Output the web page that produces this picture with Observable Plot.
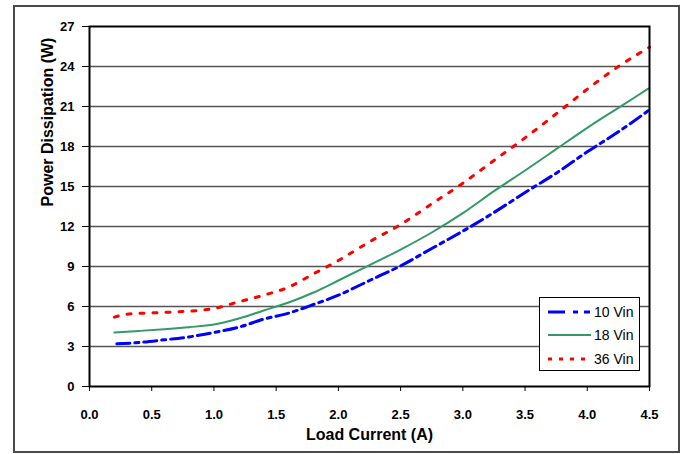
<!DOCTYPE html>
<html>
<head>
<meta charset="utf-8">
<script src="https://cdn.jsdelivr.net/npm/d3@7"></script>
<script src="https://cdn.jsdelivr.net/npm/@observablehq/plot@0.6"></script>
<style>
  html, body { margin: 0; padding: 0; background: #fff; }
  #wrap { position: relative; width: 683px; height: 454px; font-family: "Liberation Sans", Arial, sans-serif; }
  #border { position: absolute; left: 13px; top: 5px; width: 663px; height: 444px; border: 2px solid #4a4a4a; pointer-events: none; }
  #legend { position: absolute; left: 539px; top: 297px; width: 99px; height: 72px; border: 1px solid #000; background: #fff; }
  #legend .row { position: absolute; left: 0; height: 20px; width: 100%; }
  #legend svg { position: absolute; left: 7px; top: 0; }
  #legend span { position: absolute; left: 54px; top: 1px; font-size: 14px; color: #000; line-height: 18px; }
</style>
</head>
<body>
<div id="wrap">
  <div id="chart"></div>
  <div id="border"></div>
  <div id="legend"></div>
</div>
<script>
// Load current (A)
const current10 = [0.22, 0.4, 0.6, 0.8, 1.0, 1.2, 1.4, 1.6, 1.8, 2.0, 2.25, 2.5, 2.75, 3.0, 3.25, 3.5, 3.75, 4.0, 4.25, 4.5];
const current18 = [0.2, 0.4, 0.6, 0.8, 1.0, 1.2, 1.4, 1.6, 1.8, 2.0, 2.25, 2.5, 2.75, 3.0, 3.25, 3.5, 3.75, 4.0, 4.25, 4.5];
const current36 = [0.2, 0.3, 0.5, 0.7, 0.9, 1.0, 1.2, 1.4, 1.6, 1.8, 2.0, 2.25, 2.5, 2.75, 3.0, 3.25, 3.5, 3.75, 4.0, 4.25, 4.5];
// Power dissipation (W)
const power10 = [3.2, 3.3, 3.5, 3.72, 4.05, 4.45, 5.05, 5.5, 6.15, 6.85, 7.95, 9.05, 10.35, 11.65, 13.05, 14.55, 16.0, 17.6, 19.1, 20.75];
const power18 = [4.05, 4.17, 4.3, 4.45, 4.65, 5.1, 5.7, 6.3, 7.05, 7.95, 9.1, 10.27, 11.55, 13.0, 14.65, 16.2, 17.8, 19.4, 20.9, 22.4];
const power36 = [5.2, 5.42, 5.52, 5.6, 5.72, 5.85, 6.35, 6.85, 7.45, 8.45, 9.45, 10.85, 12.15, 13.7, 15.25, 16.95, 18.65, 20.45, 22.3, 24.0, 25.45];
const seriesNames = ["10 Vin", "18 Vin", "36 Vin"];
const xTicks = [0, 0.5, 1.0, 1.5, 2.0, 2.5, 3.0, 3.5, 4.0, 4.5];
const yTicks = [0, 3, 6, 9, 12, 15, 18, 21, 24, 27];
const gridTicks = [3, 6, 9, 12, 15, 18, 21, 24];

const styles = [
  {stroke: "#0000ff", strokeWidth: 3, strokeDasharray: "13,5,4,5"},
  {stroke: "#339966", strokeWidth: 2, strokeDasharray: null},
  {stroke: "#ff0000", strokeWidth: 3, strokeDasharray: "4,9"}
];

const toRows = (xs, ys) => xs.map((x, i) => ({x, y: ys[i]}));
const rows = [toRows(current10, power10), toRows(current18, power18), toRows(current36, power36)];

const chart = Plot.plot({
  width: 683,
  height: 454,
  marginLeft: 89,
  marginRight: 34,
  marginTop: 26,
  marginBottom: 68,
  style: {fontFamily: "'Liberation Sans', Arial, sans-serif", fontSize: "13px", fontWeight: "bold", color: "#000", background: "transparent"},
  x: {domain: [0, 4.5]},
  y: {domain: [0, 27]},
  marks: [
    Plot.ruleY(gridTicks, {stroke: "#555", strokeWidth: 1.5}),
    Plot.axisY({ticks: yTicks, tickSize: 7, tickPadding: 8, label: null, stroke: "#000", strokeOpacity: 1, fill: "#000"}),
    Plot.axisX({ticks: xTicks, tickSize: 5, tickPadding: 18, tickFormat: d3.format(".1f"), label: null, stroke: "#000", strokeOpacity: 1, fill: "#000"}),
    ...rows.map((r, i) => Plot.line(r, {x: "x", y: "y", curve: "monotone-x", ...styles[i]})),
    Plot.frame({stroke: "#000", strokeWidth: 2}),
    Plot.text(["Load Current (A)"], {frameAnchor: "bottom", dy: 53, fontSize: 16, fontWeight: "bold", fill: "#000"}),
    Plot.text(["Power Dissipation (W)"], {frameAnchor: "left", dx: -42, rotate: -90, fontSize: 16, fontWeight: "bold", fill: "#000"})
  ]
});
document.getElementById("chart").appendChild(chart);

// legend
const legend = document.getElementById("legend");
const rowTops = [4, 27, 51];
seriesNames.forEach((name, i) => {
  const row = document.createElement("div");
  row.className = "row";
  row.style.top = rowTops[i] + "px";
  const s = styles[i];
  let svg;
  if (i === 0) {
    svg = `<svg width="44" height="20"><line x1="1" x2="18" y1="10" y2="10" stroke="${s.stroke}" stroke-width="3"/><line x1="26" x2="31" y1="10" y2="10" stroke="${s.stroke}" stroke-width="3"/><line x1="37" x2="43" y1="10" y2="10" stroke="${s.stroke}" stroke-width="3"/></svg>`;
  } else {
    svg = `<svg width="44" height="20"><line x1="1" x2="44" y1="10" y2="10" stroke="${s.stroke}" stroke-width="${s.strokeWidth}" ${s.strokeDasharray ? `stroke-dasharray="4,7"` : ""}/></svg>`;
  }
  row.innerHTML = svg + `<span>${name}</span>`;
  legend.appendChild(row);
});
</script>
</body>
</html>
